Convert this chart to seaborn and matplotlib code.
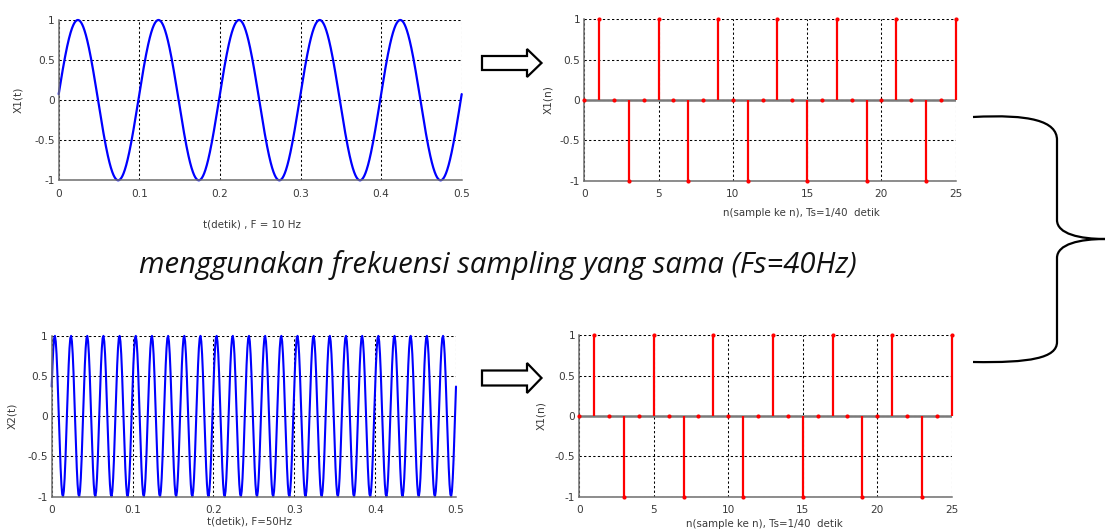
import numpy as np
import pandas as pd
import seaborn as sns
import matplotlib
matplotlib.use("Agg")
import matplotlib.pyplot as plt
from matplotlib.patches import Polygon, PathPatch
from matplotlib.path import Path

# ---------------- data ----------------
F1 = 10            # Hz, top continuous signal
F2 = 50            # Hz, bottom continuous signal
t_start = 0.0012   # s, small start offset seen in the plot
t_end = 0.5
dt = 0.001
n_samples = list(range(26))
x1_n = [0, 1, 0, -1, 0, 1, 0, -1, 0, 1, 0, -1, 0, 1, 0, -1, 0, 1, 0, -1, 0, 1, 0, -1, 0, 1]
x2_n = [0, 1, 0, -1, 0, 1, 0, -1, 0, 1, 0, -1, 0, 1, 0, -1, 0, 1, 0, -1, 0, 1, 0, -1, 0, 1]
yticks = [-1, -0.5, 0, 0.5, 1]
ytick_labels = ["-1", "-0.5", "0", "0.5", "1"]
t_ticks = [0, 0.1, 0.2, 0.3, 0.4, 0.5]
t_tick_labels = ["0", "0.1", "0.2", "0.3", "0.4", "0.5"]
n_ticks = [0, 5, 10, 15, 20, 25]
n_tick_labels = ["0", "5", "10", "15", "20", "25"]

t1 = np.linspace(0, t_end, 2001)
x1_t = np.sin(2 * np.pi * F1 * (t1 + t_start))
t2 = np.arange(0, t_end + dt / 2, dt)
x2_t = np.sin(2 * np.pi * F2 * (t2 + t_start))

df1 = pd.DataFrame({"t": t1, "x": x1_t})
df2 = pd.DataFrame({"t": t2, "x": x2_t})
ds1 = pd.DataFrame({"n": n_samples, "x": x1_n})
ds2 = pd.DataFrame({"n": n_samples, "x": x2_n})

# ---------------- style ----------------
sns.set_theme(style="white")
plt.rcParams["font.family"] = ["DejaVu Sans"]
W, H = 1106, 531
fig = plt.figure(figsize=(W / 100, H / 100), dpi=100)
fig.patch.set_facecolor("white")

TXT = "#3a3a3a"
SPINE = "#6e6e6e"


def px(x0, y0, x1, y1):
    """pixel box (top-left origin) -> figure fraction rect"""
    return [x0 / W, 1 - y1 / H, (x1 - x0) / W, (y1 - y0) / H]


def style_axes(ax, xt, xtl, xlim):
    ax.set_xlim(*xlim)
    ax.set_ylim(-1, 1)
    ax.set_xticks(xt)
    ax.set_xticklabels(xtl)
    ax.set_yticks(yticks)
    ax.set_yticklabels(ytick_labels)
    ax.tick_params(axis="both", length=0, labelsize=7.6, colors=TXT)
    ax.tick_params(axis="x", pad=6)
    ax.tick_params(axis="y", pad=3)
    ax.grid(True, color="black", linestyle=(0, (2.2, 2.2)), linewidth=0.75)
    ax.set_axisbelow(True)
    for s in ["top", "right"]:
        ax.spines[s].set_visible(False)
    for s in ["left", "bottom"]:
        ax.spines[s].set_color(SPINE)
        ax.spines[s].set_linewidth(1.1)


def set_labels(ax, xl, xpos, ylab, ypos):
    ax.set_xlabel(xl, fontsize=7.4, color=TXT, va="center")
    ax.xaxis.set_label_coords(*xpos)
    ax.set_ylabel(ylab, fontsize=7.6, color=TXT, va="center")
    ax.yaxis.set_label_coords(*ypos)


def stems(ax, d):
    ax.vlines(d["n"], 0, d["x"], color="red", linewidth=1.6, zorder=3, clip_on=False)
    ax.axhline(0, color="#7a7a7a", linewidth=1.8, zorder=2.5)
    sns.scatterplot(data=d, x="n", y="x", ax=ax, color="red", s=9,
                    edgecolor="red", linewidth=0, zorder=4, legend=False, clip_on=False)


# top-left
ax1 = fig.add_axes(px(58.7, 20, 461.7, 180.3))
sns.lineplot(data=df1, x="t", y="x", ax=ax1, color="#0000ff", linewidth=1.6, clip_on=False)
style_axes(ax1, t_ticks, t_tick_labels, (0, 0.5))
set_labels(ax1, "t(detik) , F = 10 Hz", (0.48, -0.273), "X1(t)", (-0.101, 0.5))

# top-right
ax2 = fig.add_axes(px(584.3, 19.3, 955.7, 180.7))
stems(ax2, ds1)
style_axes(ax2, n_ticks, n_tick_labels, (0, 25))
set_labels(ax2, "n(sample ke n), Ts=1/40  detik", (0.585, -0.2), "X1(n)", (-0.098, 0.5))

# bottom-left
ax3 = fig.add_axes(px(51.7, 335.7, 456, 496.7))
sns.lineplot(data=df2, x="t", y="x", ax=ax3, color="#0000ff", linewidth=1.5, clip_on=False)
style_axes(ax3, t_ticks, t_tick_labels, (0, 0.5))
set_labels(ax3, "t(detik), F=50Hz", (0.49, -0.155), "X2(t)", (-0.098, 0.5))

# bottom-right
ax4 = fig.add_axes(px(579.3, 335.3, 951.7, 496.7))
stems(ax4, ds2)
style_axes(ax4, n_ticks, n_tick_labels, (0, 25))
set_labels(ax4, "n(sample ke n), Ts=1/40  detik", (0.497, -0.169), "X1(n)", (-0.1015, 0.5))

# ---------------- annotations ----------------
fig.text(497.5 / W, 1 - 273.5 / H, "menggunakan frekuensi sampling yang sama (Fs=40Hz)",
         fontsize=21.1, style="italic", family=["Open Sans", "DejaVu Sans"],
         color="#111111", ha="center", va="baseline")


def block_arrow(cx0, cx1, cy, head_x, sh, hh):
    pts = [(cx0, cy - sh), (head_x, cy - sh), (head_x, cy - hh), (cx1, cy),
           (head_x, cy + hh), (head_x, cy + sh), (cx0, cy + sh)]
    pts = [(x / W, 1 - y / H) for x, y in pts]
    fig.patches.append(Polygon(pts, closed=True, facecolor="white", edgecolor="black",
                               linewidth=1.6, transform=fig.transFigure, figure=fig))


block_arrow(482, 541.5, 63, 527, 7, 14)
block_arrow(482, 541.5, 378, 527, 7.5, 15)

# curly brace
bp = [(973, 117), (1030, 114), (1057, 121), (1057, 140),
      (1057, 220), (1057, 234), (1080, 239), (1105, 239),
      (1080, 239), (1057, 244), (1057, 258),
      (1057, 342), (1057, 358), (1030, 363), (973, 362)]
codes = [Path.MOVETO, Path.CURVE4, Path.CURVE4, Path.CURVE4,
         Path.LINETO, Path.CURVE4, Path.CURVE4, Path.CURVE4,
         Path.CURVE4, Path.CURVE4, Path.CURVE4,
         Path.LINETO, Path.CURVE4, Path.CURVE4, Path.CURVE4]
verts = [(x / W, 1 - y / H) for x, y in bp]
fig.patches.append(PathPatch(Path(verts, codes), facecolor="none", edgecolor="black",
                             linewidth=1.6, transform=fig.transFigure, figure=fig))

fig.savefig("out.png", dpi=100, facecolor="white")
